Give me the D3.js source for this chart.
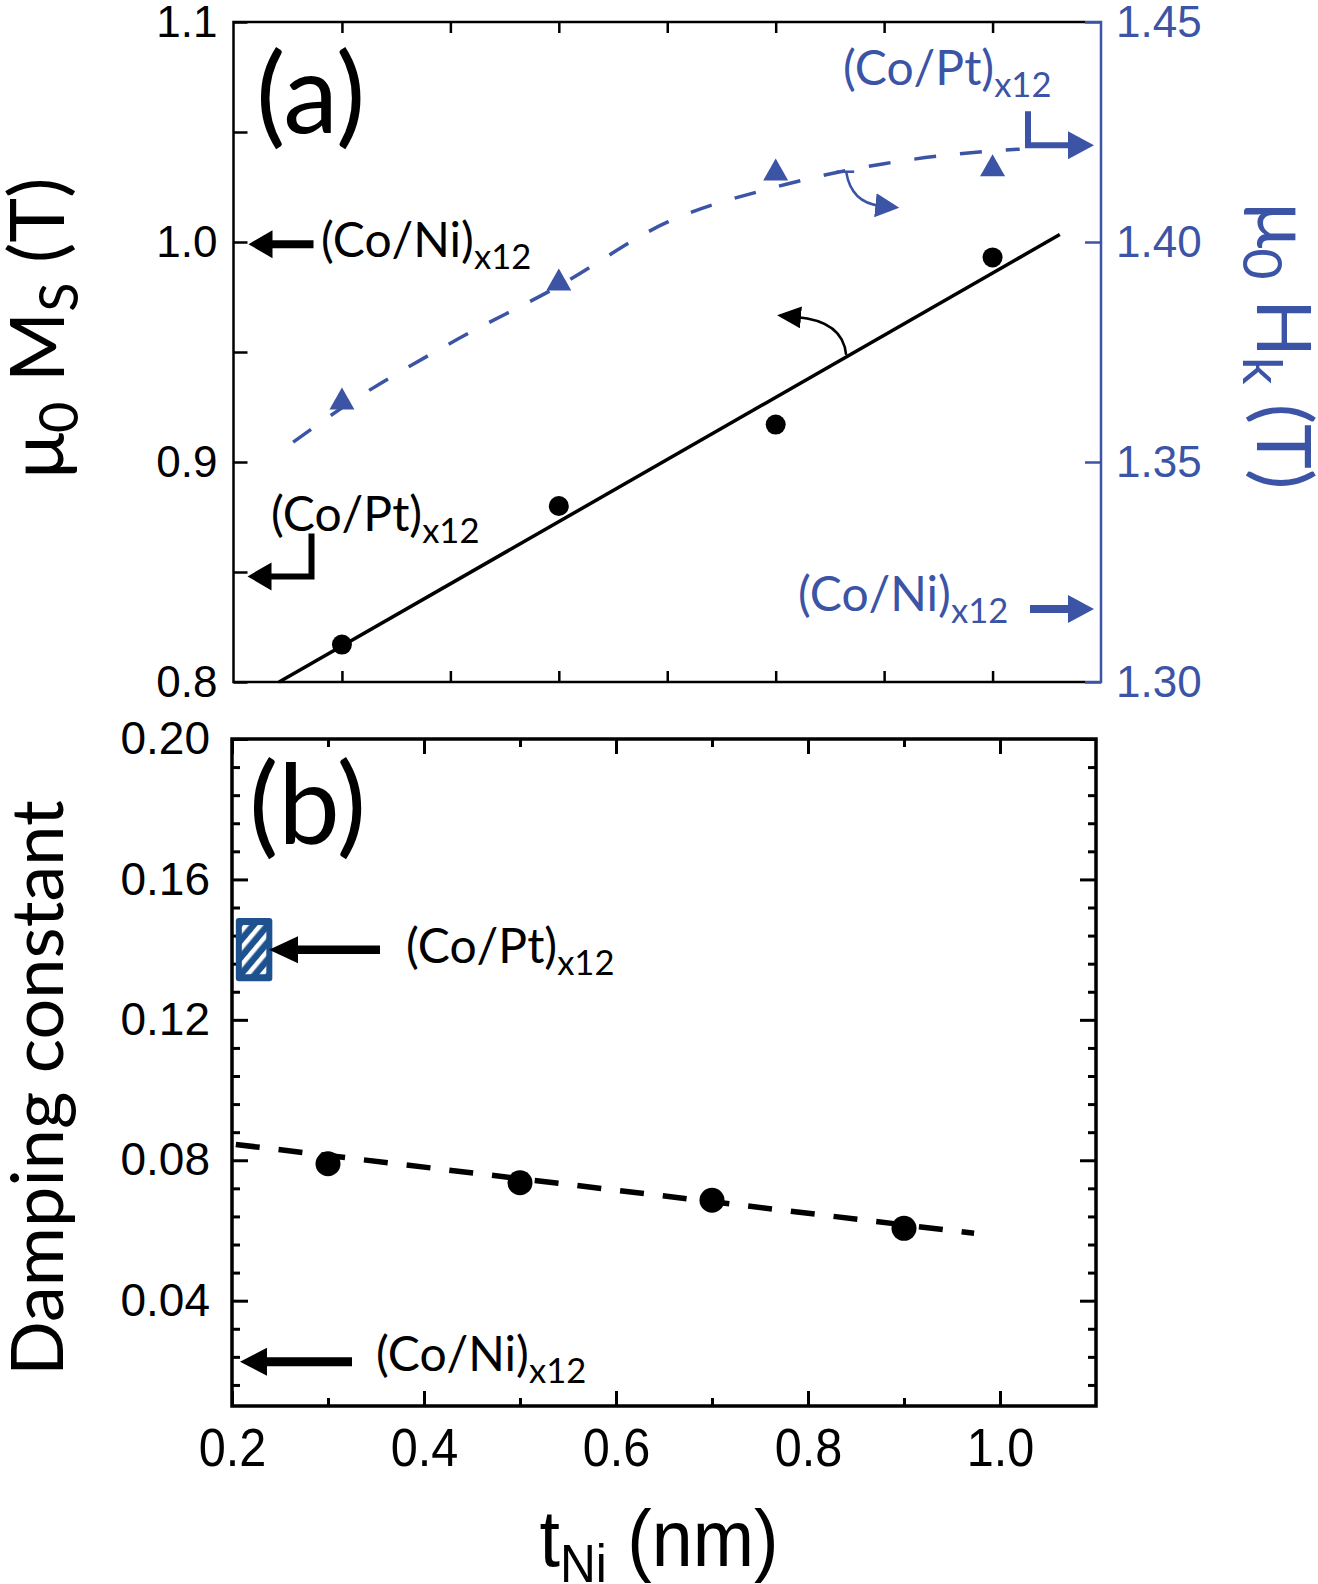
<!DOCTYPE html>
<html>
<head>
<meta charset="utf-8">
<script src="https://cdn.jsdelivr.net/npm/d3@7"></script>
<style>
body { margin: 0; background: #fff; }
</style>
</head>
<body>
<div id="fig"></div>
<script>
// ---- data ----
var tNi = [0.3, 0.5, 0.7, 0.9];
var msVals = [0.817, 0.880, 0.917, 0.993];          // mu0 Ms (T), left axis
var hkVals = [1.364, 1.391, 1.416, 1.417];          // mu0 Hk (T), right axis
var msFitT = [0.242, 0.962];
var msFitV = [0.800, 1.0034];
var hkFitT = [0.255, 0.3, 0.4, 0.5, 0.6, 0.7, 0.8, 0.9, 0.925];
var hkFitV = [1.3545, 1.3623, 1.377, 1.390, 1.4045, 1.4125, 1.4178, 1.4207, 1.4211];
var dampVals = [0.079, 0.0736, 0.0686, 0.0606];
var dampFitT = [0.204, 0.973];
var dampFitV = [0.0845, 0.0592];
var refMs = [0.999, 0.848];      // (Co/Ni)x12, (Co/Pt)x12
var refHk = [1.3166, 1.422];     // (Co/Ni)x12, (Co/Pt)x12
var refDamp = [0.0226, 0.14];    // (Co/Ni)x12, (Co/Pt)x12
var coptBand = [0.131, 0.149];
var coptBandT = [0.204, 0.242];

// ---- ticks ----
var aLeftTicks = [0.8, 0.85, 0.9, 0.95, 1.0, 1.05, 1.1];
var aRightTicks = [1.30, 1.35, 1.40, 1.45];
var aXTicks = [0.3, 0.4, 0.5, 0.6, 0.7, 0.8, 0.9];
var bYMajor = [0.04, 0.08, 0.12, 0.16, 0.20];
var bXMajor = [0.2, 0.4, 0.6, 0.8, 1.0];
var bXMinor = [0.3, 0.5, 0.7, 0.9];

var blue = "#3b54a5";
var numFont = "'Liberation Sans', Arial, sans-serif";
var txtFont = "Lato, 'Open Sans', sans-serif";

var svg = d3.select("#fig").append("svg")
    .attr("width", 1318)
    .attr("height", 1584);

var defs = svg.append("defs");
function marker(id, color, w, h) {
    defs.append("marker")
        .attr("id", id)
        .attr("viewBox", "0 0 10 10")
        .attr("refX", 2)
        .attr("refY", 5)
        .attr("markerWidth", w)
        .attr("markerHeight", h)
        .attr("markerUnits", "userSpaceOnUse")
        .attr("preserveAspectRatio", "none")
        .attr("orient", "auto")
        .append("path")
        .attr("d", "M0,0L10,5L0,10z")
        .attr("fill", color);
}
marker("curveK", "#000", 24, 22);
marker("curveB", blue, 24, 24);

var hatch = defs.append("pattern")
    .attr("id", "hatch")
    .attr("patternUnits", "userSpaceOnUse")
    .attr("width", 11)
    .attr("height", 11)
    .attr("patternTransform", "rotate(40)");
hatch.append("rect").attr("width", 11).attr("height", 11).attr("fill", "#1d528f");
hatch.append("rect").attr("width", 4.5).attr("height", 11).attr("fill", "#fff");

// straight arrow: shaft + triangle head
function arrow(g, pts, color, sw, hl, hw) {
    var n = pts.length;
    var tip = pts[n - 1], prev = pts[n - 2];
    var dx = tip[0] - prev[0], dy = tip[1] - prev[1];
    var len = Math.sqrt(dx * dx + dy * dy);
    var ux = dx / len, uy = dy / len;
    var bx = tip[0] - ux * hl, by = tip[1] - uy * hl;
    var shaft = pts.slice(0, n - 1).concat([[bx + ux * 2, by + uy * 2]]);
    g.append("path")
        .attr("d", d3.line()(shaft))
        .attr("fill", "none")
        .attr("stroke", color)
        .attr("stroke-width", sw)
        .attr("stroke-linejoin", "miter");
    g.append("path")
        .attr("d", "M" + tip[0] + "," + tip[1] +
            "L" + (bx - uy * hw / 2) + "," + (by + ux * hw / 2) +
            "L" + (bx + uy * hw / 2) + "," + (by - ux * hw / 2) + "Z")
        .attr("fill", color);
}

// text with subscript
function subText(g, x, y, main, sub, color, size) {
    var t = g.append("text")
        .attr("x", x)
        .attr("y", y)
        .attr("fill", color)
        .style("font-family", txtFont)
        .style("font-size", size + "px");
    t.append("tspan").text(main);
    t.append("tspan").attr("dy", size * 0.26).style("font-size", (size * 0.72) + "px").text(sub);
    return t;
}

function cleanAxis(g, color, sw, fontSize) {
    g.select(".domain").remove();
    g.selectAll(".tick line").attr("stroke", color).attr("stroke-width", sw);
    g.selectAll(".tick text")
        .attr("fill", color)
        .style("font-family", numFont)
        .style("font-size", fontSize + "px");
}

// ================= panel (a) =================
var xa = d3.scaleLinear().domain([0.2, 1.0]).range([233.5, 1101]);
var ya = d3.scaleLinear().domain([0.8, 1.1]).range([682, 22]);
var yaR = d3.scaleLinear().domain([1.30, 1.45]).range([682, 22]);
var pa = svg.append("g");

var fmt1 = d3.format(".1f"), fmt2 = d3.format(".2f");

pa.append("g")
    .attr("transform", "translate(" + xa(0.2) + ",0)")
    .call(d3.axisLeft(ya).tickValues(aLeftTicks).tickSize(-14).tickPadding(16)
        .tickFormat(function (d) { return Math.abs(d * 10 - Math.round(d * 10)) < 1e-6 ? fmt1(d) : ""; }))
    .call(cleanAxis, "#000", 2.5, 44);

pa.append("g")
    .attr("transform", "translate(" + xa(1.0) + ",0)")
    .call(d3.axisRight(yaR).tickValues(aRightTicks).tickSize(-16).tickPadding(15).tickFormat(fmt2))
    .call(cleanAxis, blue, 2.5, 44);

pa.append("g")
    .attr("transform", "translate(0," + ya(0.8) + ")")
    .call(d3.axisBottom(xa).tickValues(aXTicks).tickSize(-11).tickFormat(""))
    .call(cleanAxis, "#000", 2.5, 10);
pa.append("g")
    .attr("transform", "translate(0," + ya(1.1) + ")")
    .call(d3.axisTop(xa).tickValues(aXTicks).tickSize(-11).tickFormat(""))
    .call(cleanAxis, "#000", 2.5, 10);

// frame: black left/top/bottom, blue right bracket
var xBr = xa(1.0) - 16;
pa.append("path")
    .attr("d", "M" + xBr + "," + ya(1.1) + "H" + xa(0.2) + "V" + ya(0.8) + "H" + xBr)
    .attr("fill", "none").attr("stroke", "#000").attr("stroke-width", 2.5);
pa.append("path")
    .attr("d", "M" + xBr + "," + yaR(1.45) + "H" + xa(1.0) + "V" + yaR(1.30) + "H" + xBr)
    .attr("fill", "none").attr("stroke", blue).attr("stroke-width", 2.5);

// Ms fit line
pa.append("path")
    .attr("d", d3.line()([[xa(msFitT[0]), ya(msFitV[0])], [xa(msFitT[1]), ya(msFitV[1])]]))
    .attr("stroke", "#000").attr("stroke-width", 3.5).attr("fill", "none");

// Hk dashed fit curve
pa.append("path")
    .datum(hkFitT.map(function (t, i) { return [t, hkFitV[i]]; }))
    .attr("d", d3.line().curve(d3.curveMonotoneX)
        .x(function (d) { return xa(d[0]); })
        .y(function (d) { return yaR(d[1]); }))
    .attr("fill", "none")
    .attr("stroke", blue)
    .attr("stroke-width", 3.5)
    .attr("stroke-dasharray", "22,24");

// Ms points
pa.selectAll(".ms")
    .data(tNi)
    .enter()
    .append("circle")
    .attr("cx", function (d) { return xa(d); })
    .attr("cy", function (d, i) { return ya(msVals[i]); })
    .attr("r", 10)
    .attr("fill", "#000");

// Hk triangles
pa.selectAll(".hk")
    .data(tNi)
    .enter()
    .append("path")
    .attr("transform", function (d, i) { return "translate(" + xa(d) + "," + yaR(hkVals[i]) + ")"; })
    .attr("d", "M0,-13L12.5,9L-12.5,9Z")
    .attr("fill", blue);

// curved arrows
var tK = 0.765;
var kx = xa(tK), ky = ya(msFitV[0] + (tK - msFitT[0]) * (msFitV[1] - msFitV[0]) / (msFitT[1] - msFitT[0]));
pa.append("path")
    .attr("d", "M" + kx + "," + (ky - 2) + "Q" + (kx - 3) + "," + (ky - 36) + " " + (kx - 50) + "," + (ky - 40))
    .attr("fill", "none").attr("stroke", "#000").attr("stroke-width", 2.5)
    .attr("marker-end", "url(#curveK)");
var bxx = xa(0.765), byy = yaR(1.4162);
pa.append("path")
    .attr("d", "M" + (bxx - 10) + "," + (byy + 1) + "H" + (bxx + 8))
    .attr("stroke", blue).attr("stroke-width", 2.5);
pa.append("path")
    .attr("d", "M" + bxx + "," + (byy + 1) + "Q" + (bxx + 5) + "," + (byy + 32) + " " + (bxx + 34) + "," + (byy + 35))
    .attr("fill", "none").attr("stroke", blue).attr("stroke-width", 2.5)
    .attr("marker-end", "url(#curveB)");

// reference arrows (a)
arrow(pa, [[xa(0.2) + 80, ya(refMs[0])], [xa(0.2) + 15, ya(refMs[0])]], "#000", 8, 24, 28);
subText(pa, 321, 257, "(Co/Ni)", "x12", "#000", 48);

arrow(pa, [[xa(0.2) + 78, ya(refMs[1]) - 43], [xa(0.2) + 78, ya(refMs[1])], [xa(0.2) + 14, ya(refMs[1])]], "#000", 6, 24, 28);
subText(pa, 271, 531, "(Co/Pt)", "x12", "#000", 48);

arrow(pa, [[xa(1.0) - 73, yaR(refHk[1]) - 34], [xa(1.0) - 73, yaR(refHk[1])], [xa(1.0) - 7, yaR(refHk[1])]], blue, 6, 26, 28);
subText(pa, 843, 85, "(Co/Pt)", "x12", blue, 48);

arrow(pa, [[xa(1.0) - 71, yaR(refHk[0])], [xa(1.0) - 7, yaR(refHk[0])]], blue, 8, 26, 28);
subText(pa, 798, 611, "(Co/Ni)", "x12", blue, 48);

pa.append("text")
    .attr("x", 256).attr("y", 133)
    .style("font-family", txtFont).style("font-size", "110px")
    .text("(a)");

// axis titles (a)
var tl = pa.append("text")
    .attr("transform", "translate(64,328) rotate(-90)")
    .attr("text-anchor", "middle")
    .style("font-family", txtFont).style("font-size", "76px")
    .attr("fill", "#000");
tl.append("tspan").text("\u03bc");
tl.append("tspan").attr("dy", 14).style("font-size", "54px").text("0");
tl.append("tspan").attr("dy", -14).text(" M");
tl.append("tspan").attr("dy", 14).style("font-size", "54px").text("S");
tl.append("tspan").attr("dy", -14).text(" (T)");

var tr = pa.append("text")
    .attr("transform", "translate(1257,346) rotate(90)")
    .attr("text-anchor", "middle")
    .style("font-family", txtFont).style("font-size", "76px")
    .attr("fill", blue);
tr.append("tspan").text("\u03bc");
tr.append("tspan").attr("dy", 14).style("font-size", "54px").text("0");
tr.append("tspan").attr("dy", -14).text(" H");
tr.append("tspan").attr("dy", 14).style("font-size", "54px").text("k");
tr.append("tspan").attr("dy", -14).text(" (T)");

// ================= panel (b) =================
var xb = d3.scaleLinear().domain([0.2, 1.1]).range([232, 1096]);
var yb = d3.scaleLinear().domain([0.01, 0.20]).range([1406, 739]);
var pb = svg.append("g");

var bYMinor = d3.range(0.016, 0.2, 0.008).filter(function (v) {
    return bYMajor.every(function (m) { return Math.abs(m - v) > 1e-6; });
});

pb.append("g")
    .attr("transform", "translate(" + xb(0.2) + ",0)")
    .call(d3.axisLeft(yb).tickValues(bYMajor).tickSize(-16).tickPadding(22).tickFormat(fmt2))
    .call(cleanAxis, "#000", 3, 46);
pb.append("g")
    .attr("transform", "translate(" + xb(0.2) + ",0)")
    .call(d3.axisLeft(yb).tickValues(bYMinor).tickSize(-8).tickFormat(""))
    .call(cleanAxis, "#000", 3, 10);
pb.append("g")
    .attr("transform", "translate(" + xb(1.1) + ",0)")
    .call(d3.axisRight(yb).tickValues(bYMajor).tickSize(-16).tickFormat(""))
    .call(cleanAxis, "#000", 3, 10);
pb.append("g")
    .attr("transform", "translate(" + xb(1.1) + ",0)")
    .call(d3.axisRight(yb).tickValues(bYMinor).tickSize(-8).tickFormat(""))
    .call(cleanAxis, "#000", 3, 10);

var xAxB = pb.append("g")
    .attr("transform", "translate(0," + yb(0.01) + ")")
    .call(d3.axisBottom(xb).tickValues(bXMajor).tickSize(-15).tickPadding(22).tickFormat(fmt1))
    .call(cleanAxis, "#000", 3, 54);
xAxB.selectAll(".tick text").attr("transform", "scale(0.9,1)");
pb.append("g")
    .attr("transform", "translate(0," + yb(0.01) + ")")
    .call(d3.axisBottom(xb).tickValues(bXMinor).tickSize(-8).tickFormat(""))
    .call(cleanAxis, "#000", 3, 10);
pb.append("g")
    .attr("transform", "translate(0," + yb(0.20) + ")")
    .call(d3.axisTop(xb).tickValues(bXMajor).tickSize(-15).tickFormat(""))
    .call(cleanAxis, "#000", 3, 10);
pb.append("g")
    .attr("transform", "translate(0," + yb(0.20) + ")")
    .call(d3.axisTop(xb).tickValues(bXMinor).tickSize(-8).tickFormat(""))
    .call(cleanAxis, "#000", 3, 10);

pb.append("rect")
    .attr("x", xb(0.2)).attr("y", yb(0.20))
    .attr("width", xb(1.1) - xb(0.2)).attr("height", yb(0.01) - yb(0.20))
    .attr("fill", "none").attr("stroke", "#000").attr("stroke-width", 3.5);

// damping fit
pb.append("path")
    .attr("d", d3.line()([[xb(dampFitT[0]), yb(dampFitV[0])], [xb(dampFitT[1]), yb(dampFitV[1])]]))
    .attr("stroke", "#000").attr("stroke-width", 5.5).attr("fill", "none")
    .attr("stroke-dasharray", "24,19");

pb.selectAll(".damp")
    .data(tNi)
    .enter()
    .append("circle")
    .attr("cx", function (d) { return xb(d); })
    .attr("cy", function (d, i) { return yb(dampVals[i]); })
    .attr("r", 12.5)
    .attr("fill", "#000");

// Co/Pt band
pb.append("rect")
    .attr("x", xb(coptBandT[0])).attr("y", yb(coptBand[1]))
    .attr("width", xb(coptBandT[1]) - xb(coptBandT[0]))
    .attr("height", yb(coptBand[0]) - yb(coptBand[1]))
    .attr("rx", 3)
    .attr("fill", "#1d528f");
pb.append("rect")
    .attr("x", xb(coptBandT[0]) + 6).attr("y", yb(coptBand[1]) + 7)
    .attr("width", xb(coptBandT[1]) - xb(coptBandT[0]) - 12)
    .attr("height", yb(coptBand[0]) - yb(coptBand[1]) - 14)
    .attr("fill", "url(#hatch)");

arrow(pb, [[xb(0.2) + 148, yb(refDamp[1])], [xb(0.2) + 37, yb(refDamp[1])]], "#000", 8.5, 29, 27);
subText(pb, 406, 963, "(Co/Pt)", "x12", "#000", 48);

arrow(pb, [[xb(0.2) + 120, yb(refDamp[0])], [xb(0.2) + 8, yb(refDamp[0])]], "#000", 9, 27, 28);
subText(pb, 376, 1371, "(Co/Ni)", "x12", "#000", 48);

pb.append("text")
    .attr("x", 249).attr("y", 843)
    .style("font-family", txtFont).style("font-size", "110px")
    .text("(b)");

pb.append("text")
    .attr("transform", "translate(63,1088) rotate(-90)")
    .attr("text-anchor", "middle")
    .style("font-family", txtFont).style("font-size", "72px")
    .text("Damping constant");

var xt = pb.append("text")
    .attr("transform", "translate(659,1566) scale(0.92,1)")
    .attr("text-anchor", "middle")
    .style("font-family", numFont).style("font-size", "80px");
xt.append("tspan").text("t");
xt.append("tspan").attr("dy", 16).style("font-size", "54px").text("Ni");
xt.append("tspan").attr("dy", -16).text(" (nm)");
</script>
</body>
</html>
